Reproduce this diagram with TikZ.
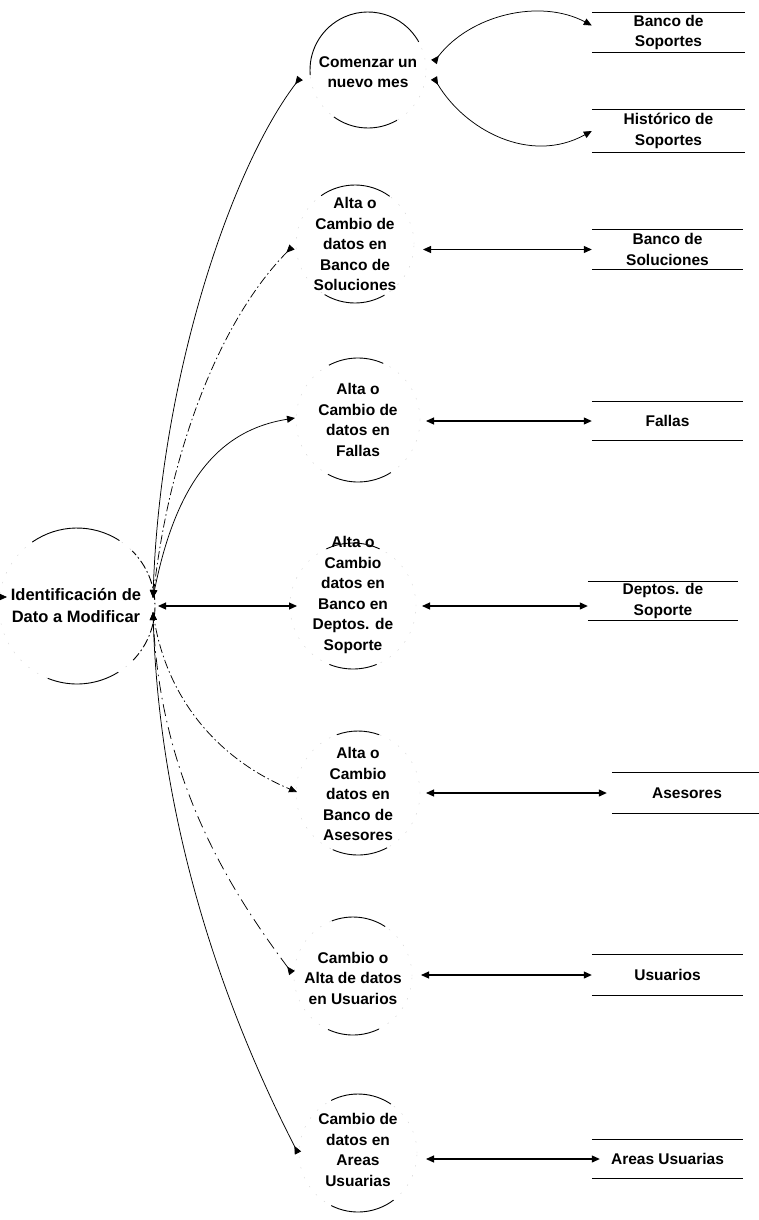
\documentclass[tikz,border=0pt]{standalone}
\usepackage{fontspec}
\setmainfont{Liberation Sans}
\usetikzlibrary{arrows.meta,calc}

% Top and bottom arcs of a process bubble, with a faint full outline.
% #1 centre, #2 radius, #3/#4 top arc angles, #5/#6 bottom arc angles
\newcommand{\ringarcs}[6]{%
  \draw[ringfaint] (#1) circle[radius=#2];
  \draw[ring] ([shift={(#3:#2)}]#1) arc[start angle=#3, end angle=#4, radius=#2];
  \draw[ring] ([shift={(#5:#2)}]#1) arc[start angle=#5, end angle=#6, radius=#2];
}

\begin{document}
\begin{tikzpicture}[x=1pt,y=-1pt,
  Arr/.tip={Triangle[length=8pt,width=7pt]},
  ArrR/.tip={Triangle[length=8pt,width=7pt,reversed]},
  proc/.style={font=\bfseries\fontsize{15.5}{20.5}\selectfont, align=center, inner sep=0pt},
  store/.style={font=\bfseries\fontsize{15.5}{20.5}\selectfont, align=center, inner sep=0pt, minimum height=39pt},
  ring/.style={line width=0.9pt},
  ringfaint/.style={gray!35, line width=0.4pt, dash pattern=on 1.5pt off 9pt},
  storeline/.style={line width=1.2pt},
  flow/.style={line width=0.75pt, arrows={-Arr}},
  rflow/.style={line width=0.75pt, arrows={ArrR-Arr}},
  dflow/.style={line width=1.1pt, arrows={Arr-Arr}},
  dashdot/.style={dash pattern=on 9pt off 3pt on 1.5pt off 3pt},
  longdash/.style={dash pattern=on 12pt off 5pt on 1.5pt off 5pt}
]
\useasboundingbox (0,0) rectangle (758,1220);
\fill[white] (0,0) rectangle (758,1220);

% ---- bubble centres ----
\coordinate (idc) at (77,606);
\coordinate (p1c) at (368,70);
\coordinate (p2c) at (355,244);
\coordinate (p3c) at (358,420);
\coordinate (p4c) at (353,606);
\coordinate (p5c) at (358,793);
\coordinate (p6c) at (353,976);
\coordinate (p7c) at (358,1153);

% ---- processes ----
\node[proc, font=\bfseries\fontsize{16.5}{22}\selectfont] (id) at (76,606) {Identificación de\\Dato a Modificar};
\node[proc] (p1) at (368,72) {Comenzar un\\nuevo mes};
\node[proc] (p2) at (355,244) {Alta o\\Cambio de\\datos en\\Banco de\\Soluciones};
\node[proc] (p3) at (358,420) {Alta o\\Cambio de\\datos en\\Fallas};
\node[proc] (p4) at (353,595) {Alta o\\Cambio\\datos en\\Banco en\\Deptos. de\\Soporte};
\node[proc] (p5) at (358,794) {Alta o\\Cambio\\datos en\\Banco de\\Asesores};
\node[proc] (p6) at (353,978) {Cambio o\\Alta de datos\\en Usuarios};
\node[proc] (p7) at (358,1150) {Cambio de\\datos en\\Areas\\Usuarias};

\ringarcs{idc}{78pt}{57}{125}{248}{302}
\draw[ring, dashdot] ([shift={(-44:78pt)}]idc) arc[start angle=-44, end angle=45, radius=78pt];
\ringarcs{p1c}{58pt}{29}{185}{234}{300}
\ringarcs{p2c}{59pt}{54}{125}{239}{300}
\ringarcs{p3c}{62pt}{66}{118}{241}{302}
\ringarcs{p4c}{63pt}{65}{115}{248}{292}
\ringarcs{p5c}{62pt}{70}{110}{246}{298}
\ringarcs{p6c}{59pt}{57}{111}{245}{296}
\ringarcs{p7c}{59pt}{56}{117}{243}{307}

% ---- data stores ----
\node[store, minimum width=153pt] (s1) at (668.5,32.5) {Banco de\\Soportes};
\node[store, minimum width=153pt, minimum height=42pt] (s1b) at (668.5,131) {Histórico de\\Soportes};
\node[store, minimum width=151pt] (s2) at (667.5,249.5) {Banco de\\Soluciones};
\node[store, minimum width=151pt, minimum height=38pt] (s3) at (667.5,421) {Fallas};
\node[store, minimum width=150pt, minimum height=38pt] (s4) at (663,601) {Deptos. de\\Soporte};
\node[store, minimum width=150pt, minimum height=40pt] (s5) at (687,793) {Asesores};
\node[store, minimum width=151pt, minimum height=40pt] (s6) at (667.5,975) {Usuarios};
\node[store, minimum width=151pt, minimum height=38pt] (s7) at (667.5,1159) {Areas Usuarias};

\foreach \s in {s1,s1b,s2,s3,s4,s5,s6,s7}
  \draw[storeline] (\s.north west) -- (\s.north east) (\s.south west) -- (\s.south east);

% ---- ports on the central bubble ----
\coordinate (idN) at ([shift={(76pt,8pt)}]idc);
\coordinate (idS) at ([shift={(76pt,-6pt)}]idc);
\coordinate (idE) at ([xshift=81pt]idc);
\coordinate (idIn) at ([shift={(-70pt,9pt)}]idc);

% incoming flow from the left edge
\draw[flow] ([xshift=-20pt]idIn) -- (idIn);

% ---- new month to the support stores ----
\draw[rflow] ([shift={(66pt,8pt)}]p1c) .. controls (470,15) and (540,-2) .. ([yshift=7pt]s1.west);
\draw[rflow] ([shift={(66pt,-8pt)}]p1c) .. controls (465,130) and (530,165) .. (s1b.west);

% ---- flows between the central bubble and the processes ----
\draw[rflow] ([shift={(-68pt,-8pt)}]p1c) .. controls (230,170) and (160,380) .. (idN);
\draw[rflow, dashdot] ([shift={(-63pt,-3pt)}]p2c) .. controls (220,320) and (170,450) .. (idN);
\draw[flow] (idN) .. controls (175,480) and (220,430) .. ([shift={(-63pt,2pt)}]p3c);
\draw[dflow] (idE) -- ([xshift=-56pt]p4c);
\draw[flow, dashdot] (idS) .. controls (165,700) and (220,760) .. ([shift={(-61pt,1pt)}]p5c);
\draw[rflow, longdash] ([shift={(-61pt,3pt)}]p6c) .. controls (230,890) and (160,780) .. (idS);
\draw[rflow] ([xshift=-60pt]p7c) .. controls (240,1040) and (160,850) .. (idS);

% ---- flows between processes and stores ----
\draw[dflow] ($(p2c |- s2.west)+(68pt,0)$) -- (s2.west);
\draw[dflow] ($(p3c |- s3.west)+(68pt,0)$) -- (s3.west);
\draw[dflow] ($(p4c)+(69pt,0)$) -- (s4.west |- p4c);
\draw[dflow] ($(p5c |- s5.west)+(68pt,0)$) -- ($(s5.west)+(-5pt,0)$);
\draw[dflow] ($(p6c |- s6.west)+(68pt,0)$) -- (s6.west);
\draw[dflow] ($(p7c |- s7.west)+(68pt,0)$) -- ($(s7.west)+(8pt,0)$);
\end{tikzpicture}
\end{document}
